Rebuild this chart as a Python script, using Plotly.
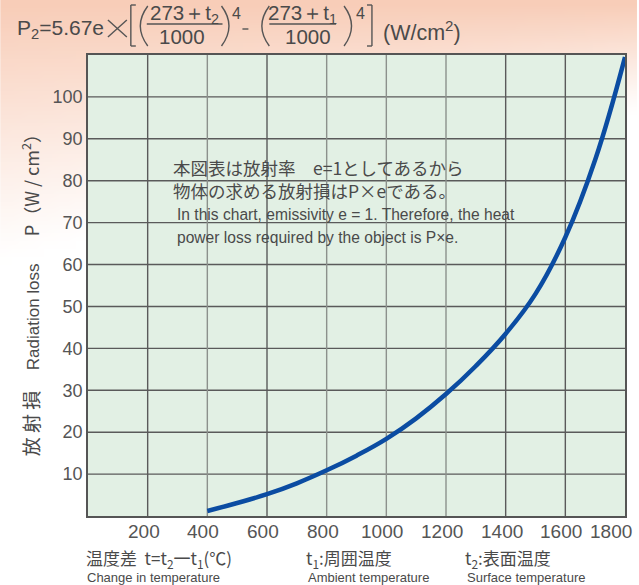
import base64
import struct
import zlib

import plotly.graph_objects as go

# Temperature difference t (°C) and radiation loss P (W/cm²)
t_vals = [400, 500, 600, 700, 800, 900, 1000, 1100, 1200, 1300, 1400, 1500, 1600, 1700, 1800]
p_vals = [1.2, 3.1, 5.2, 7.8, 10.9, 14.4, 18.4, 23.3, 29.1, 35.8, 43.5, 53.0, 66.5, 85.0, 109.5]

x_ticks = [200, 400, 600, 800, 1000, 1200, 1400, 1600, 1800]
y_ticks = [10, 20, 30, 40, 50, 60, 70, 80, 90, 100]
x_dark_grid = [200, 600, 1400, 1600]
x_light_grid = [400, 800, 1000, 1200]

W, H = 639, 585
L, R, T, B = 88, 12, 55, 69
PW, PH = W - L - R, H - T - B

LATIN = "Liberation Sans, Arial, sans-serif"
CJK = "Noto Sans CJK JP, sans-serif"
TXT = "#4a4a4a"
INK = "#555555"


def px(x):
    return (x - L) / PW


def py(y):
    return (H - B - y) / PH


def gradient_png(w, h):
    """Peach wash in the upper part of the page fading to white."""
    peach = (248, 205, 184)
    rows = []
    for j in range(h):
        yy = j / (h - 1) * H
        row = bytearray()
        for i in range(w):
            xx = i / (w - 1) * W
            lim = 260 - 150 * xx / W
            a = max(0.0, 1 - yy / lim) ** 1.1
            for c in peach:
                row.append(int(round(255 + (c - 255) * a)))
        rows.append(b"\x00" + bytes(row))
    raw = zlib.compress(b"".join(rows), 9)

    def chunk(tag, data):
        return (struct.pack(">I", len(data)) + tag + data
                + struct.pack(">I", zlib.crc32(tag + data) & 0xFFFFFFFF))

    png = (b"\x89PNG\r\n\x1a\n"
           + chunk(b"IHDR", struct.pack(">IIBBBBB", w, h, 8, 2, 0, 0, 0))
           + chunk(b"IDAT", raw) + chunk(b"IEND", b""))
    return "data:image/png;base64," + base64.b64encode(png).decode()


fig = go.Figure()
fig.add_trace(go.Scatter(
    x=t_vals, y=p_vals, mode="lines",
    line=dict(color="#0b4ca2", width=4.5, shape="spline", smoothing=1.2),
    hoverinfo="skip", showlegend=False,
))

shapes = [
    dict(type="rect", xref="paper", yref="paper", x0=0, x1=1, y0=0, y1=1,
         fillcolor="#e2f0e4", line=dict(width=0), layer="below"),
]
for v in y_ticks:
    shapes.append(dict(type="line", xref="paper", yref="y", x0=0, x1=1, y0=v, y1=v,
                       line=dict(color="#5a5a5a", width=1.4), layer="below"))
for v in x_dark_grid:
    shapes.append(dict(type="line", xref="x", yref="paper", x0=v, x1=v, y0=0, y1=1,
                       line=dict(color="#5a5a5a", width=1.4), layer="below"))
for v in x_light_grid:
    shapes.append(dict(type="line", xref="x", yref="paper", x0=v, x1=v, y0=0, y1=1,
                       line=dict(color="#8c918c", width=1.4), layer="below"))


def seg(x0, y0, x1, y1, w=1.4):
    return dict(type="line", xref="paper", yref="paper", x0=px(x0), y0=py(y0),
                x1=px(x1), y1=py(y1), line=dict(color=INK, width=w), layer="above")


def curve(x0, y0, cx, cy, x1, y1):
    return dict(type="path", xref="paper", yref="paper",
                path=f"M {px(x0)},{py(y0)} Q {px(cx)},{py(cy)} {px(x1)},{py(y1)}",
                line=dict(color=INK, width=1.4), layer="above")


# formula brackets, fraction bars, multiplication cross and minus sign
shapes += [
    seg(108, 20, 127, 37), seg(108, 37, 127, 20),
    seg(136, 5, 131, 5), seg(131, 5, 131, 46), seg(131, 46, 136, 46),
    curve(148, 6, 133, 26, 148, 46),
    seg(147, 24, 223, 24),
    curve(222, 6, 237, 26, 222, 46),
    seg(243, 29, 249, 29),
    curve(270, 6, 255, 26, 270, 46),
    seg(270, 24, 337, 24),
    curve(345, 6, 360, 26, 345, 46),
    seg(368, 5, 373, 5), seg(373, 5, 373, 46), seg(373, 46, 368, 46),
]


def ann(text, x, y, size, family=LATIN, xanchor="left", yanchor="middle", angle=0):
    return dict(text=text, x=px(x), y=py(y), xref="paper", yref="paper",
                showarrow=False, xanchor=xanchor, yanchor=yanchor, textangle=angle,
                align="left", font=dict(size=size, family=family, color=TXT))


annotations = [
    ann("P<sub>2</sub>=5.67e", 15, 29, 21),
    ann("273＋t<sub>2</sub>", 185, 14, 20.5, xanchor="center"),
    ann("1000", 182, 36, 20.5, xanchor="center"),
    ann("4", 237, 13, 16, xanchor="center"),
    ann("273＋t<sub>1</sub>", 303, 14, 20.5, xanchor="center"),
    ann("1000", 309, 36, 20.5, xanchor="center"),
    ann("4", 362, 13, 16, xanchor="center"),
    ann("(W/cm<sup>2</sup>)", 382, 31, 21.5),

    ann("本図表は放射率　e=1としてあるから<br>物体の求める放射損はP×eである。",
        171, 179, 17.5, family=CJK),
    ann("In this chart, emissivity e = 1. Therefore, the heat", 175, 214, 15.6),
    ann("power loss required by the object is P×e.", 175, 237, 15.6),

    ann("温度差  t=t<sub>2</sub>一t<sub>1</sub>(℃)", 84, 558, 17, family=CJK),
    ann("Change in temperature", 85, 577, 13),
    ann("t<sub>1</sub>:周囲温度", 305, 558, 17, family=CJK),
    ann("Ambient temperature", 307, 577, 13),
    ann("t<sub>2</sub>:表面温度", 464, 558, 17, family=CJK),
    ann("Surface temperature", 466, 577, 13),

    ann("放 射 損", 30, 423, 19, family=CJK, xanchor="center", angle=-90),
    ann("Radiation loss", 33, 317, 17, xanchor="center", angle=-90),
    ann("P（W / cm<sup>2</sup>）", 30, 181, 18, family=CJK, xanchor="center", angle=-90),
]

# x tick labels sit slightly left of their grid lines; the last one stays inside the page
for v in x_ticks:
    last = v == x_ticks[-1]
    annotations.append(dict(
        text=str(v), x=v, xref="x", y=py(531), yref="paper", showarrow=False,
        xanchor="right" if last else "center", yanchor="middle",
        xshift=9 if last else -4,
        font=dict(size=19, family=LATIN, color=INK),
    ))

fig.update_layout(
    width=W, height=H,
    margin=dict(l=L, r=R, t=T, b=B, pad=0),
    paper_bgcolor="white", plot_bgcolor="#e2f0e4",
    shapes=shapes, annotations=annotations,
    images=[dict(source=gradient_png(80, 74), xref="paper", yref="paper",
                 x=px(0), y=py(0), sizex=W / PW, sizey=H / PH,
                 xanchor="left", yanchor="top", sizing="stretch", layer="below")],
    xaxis=dict(range=[0, 1800], showticklabels=False,
               showgrid=False, zeroline=False, showline=True, mirror=True,
               linecolor=INK, linewidth=1.5, ticks="", ticklen=0),
    yaxis=dict(range=[0, 110], tickvals=y_ticks, ticktext=[str(v) for v in y_ticks],
               showgrid=False, zeroline=False, showline=True, mirror=True,
               linecolor=INK, linewidth=1.5, ticks="", ticklen=0,
               tickfont=dict(size=18, family=LATIN, color=INK)),
)

fig.write_html("out.html")
